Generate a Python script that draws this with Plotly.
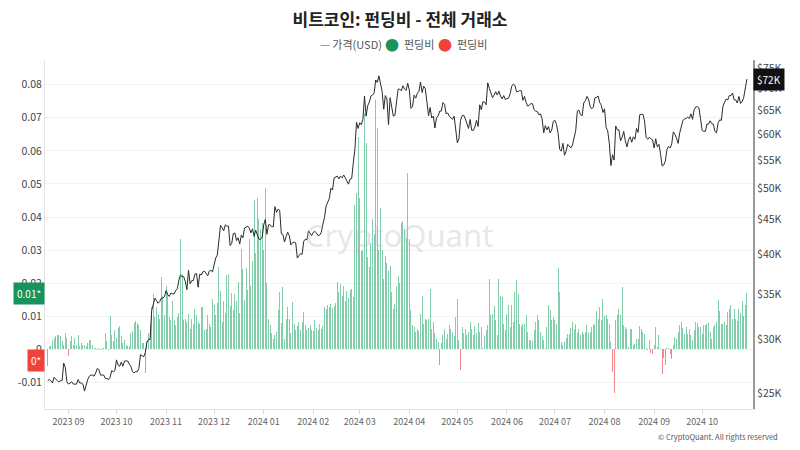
import math
import pandas as pd
import plotly.graph_objects as go

# BTC price (thousand USD), daily from 2023-08-19 to 2024-10-29
p_2023_08 = [26.1, 26.2, 26.1, 25.9, 26.4, 26.2, 26.1, 26.0, 26.1, 26.1, 27.7, 27.3, 26.0]
p_2023_09 = [25.8, 25.9, 26.0, 25.8, 25.8, 25.8, 26.2, 25.9, 25.9, 25.8, 25.2, 25.8, 26.2, 26.5, 26.6, 26.6, 26.5, 26.8, 27.2, 27.1, 26.6, 26.6, 26.6, 26.3, 26.3, 26.2, 26.4, 27.0, 26.9, 27.0]
p_2023_10 = [28.0, 27.5, 27.4, 27.8, 27.4, 27.9, 27.9, 27.9, 27.6, 27.4, 26.9, 26.8, 26.9, 26.9, 27.2, 28.5, 28.4, 28.3, 28.7, 29.7, 30.0, 30.0, 33.1, 34.0, 34.5, 34.2, 33.9, 34.1, 34.5, 34.5, 34.7]
p_2023_11 = [35.4, 34.9, 34.7, 35.1, 35.0, 35.0, 35.4, 35.6, 36.7, 37.3, 37.1, 37.1, 36.5, 35.5, 37.9, 36.2, 36.6, 36.6, 37.4, 37.5, 35.8, 37.4, 37.3, 37.7, 37.8, 37.5, 37.2, 37.8, 37.9, 37.7]
p_2023_12 = [38.7, 39.5, 39.9, 42.0, 44.1, 43.8, 43.3, 44.2, 44.0, 44.0, 41.2, 41.5, 42.9, 43.0, 41.9, 42.3, 41.4, 42.7, 42.3, 43.7, 43.9, 44.0, 43.7, 43.0, 43.6, 42.5, 43.4, 42.6, 42.1, 42.1, 42.3]
p_2024_01 = [44.2, 45.0, 42.8, 44.2, 44.2, 43.9, 43.9, 47.0, 46.1, 46.6, 46.4, 42.9, 42.8, 41.7, 42.5, 43.1, 42.6, 41.3, 41.6, 41.7, 41.6, 39.5, 39.8, 40.1, 40.0, 41.8, 42.1, 42.0, 43.3, 42.9, 42.6]
p_2024_02 = [43.1, 43.2, 43.0, 42.6, 42.7, 43.1, 44.3, 45.3, 47.1, 47.8, 48.3, 50.0, 49.7, 51.8, 51.9, 52.1, 51.6, 52.1, 51.8, 52.3, 51.8, 51.3, 50.7, 51.6, 51.7, 54.5, 57.1, 62.5, 61.2]
p_2024_03 = [62.4, 62.0, 63.1, 68.3, 63.8, 66.1, 66.9, 68.3, 68.5, 69.0, 72.1, 71.5, 73.1, 71.4, 69.4, 65.3, 68.4, 67.6, 62.0, 67.9, 65.5, 63.8, 64.0, 67.2, 69.9, 69.9, 69.5, 70.7, 69.9, 69.6, 71.3]
p_2024_04 = [69.7, 65.5, 65.9, 68.5, 67.8, 68.9, 69.4, 71.6, 69.1, 70.6, 70.0, 67.2, 63.9, 65.7, 63.4, 63.8, 61.3, 63.5, 63.8, 64.9, 64.9, 66.8, 66.4, 64.3, 64.5, 63.8, 63.4, 63.1, 63.8, 60.6]
p_2024_05 = [58.3, 59.1, 62.9, 63.9, 64.0, 63.2, 62.3, 61.2, 63.1, 60.8, 60.8, 61.5, 62.9, 61.6, 66.3, 65.2, 67.0, 66.9, 66.3, 71.4, 70.1, 69.1, 67.9, 68.5, 69.3, 68.5, 69.4, 68.3, 67.6, 68.4, 67.5]
p_2024_06 = [67.7, 67.8, 68.8, 70.6, 71.1, 70.8, 69.3, 69.3, 69.6, 69.5, 67.3, 68.2, 66.8, 66.0, 66.2, 66.6, 66.5, 65.2, 64.9, 64.8, 64.1, 64.3, 63.2, 60.3, 61.8, 60.9, 61.6, 60.3, 60.9, 62.7]
p_2024_07 = [62.9, 62.0, 60.2, 57.0, 56.7, 58.2, 55.9, 56.7, 58.0, 57.7, 57.3, 57.9, 59.2, 60.8, 64.9, 65.1, 64.1, 63.9, 66.7, 67.2, 68.2, 67.6, 65.9, 65.4, 65.8, 67.9, 68.0, 68.3, 66.8, 66.2, 64.6]
p_2024_08 = [65.4, 61.4, 60.7, 58.1, 54.0, 56.0, 55.0, 61.7, 60.9, 60.9, 58.7, 59.4, 60.6, 58.7, 57.5, 58.9, 59.5, 58.4, 59.5, 59.0, 61.2, 60.4, 64.1, 64.2, 64.2, 62.8, 59.4, 59.0, 59.4, 59.1, 58.9]
p_2024_09 = [57.3, 59.1, 57.5, 58.0, 56.2, 53.9, 54.1, 54.8, 57.0, 57.6, 57.3, 58.1, 60.5, 60.0, 59.2, 58.2, 60.3, 61.8, 62.9, 63.2, 63.3, 63.6, 63.3, 64.3, 63.1, 65.2, 65.8, 65.9, 65.6, 63.3]
p_2024_10 = [60.8, 60.6, 60.6, 62.1, 62.1, 62.8, 62.2, 62.1, 60.6, 60.3, 62.4, 63.0, 62.9, 66.0, 67.0, 67.6, 67.4, 68.4, 68.4, 69.0, 67.4, 67.4, 66.7, 68.2, 66.6, 67.0, 68.0, 69.9, 72.3]

# Funding rate (all exchanges), daily
f_2023_08 = [-0.005, 0.001, 0.001, 0.003, 0.0035, 0.004, 0.0045, 0.0045, 0.004, 0.0025, 0.0015, 0.005, 0.0035]
f_2023_09 = [-0.002, 0.0025, 0.004, 0.0015, 0.0035, 0.0015, 0.0045, 0.001, 0.002, 0.0015, 0.0015, 0.001, 0.002, 0.003, 0.003, 0.0015, 0.0005, 0.0003, -0.0003, 0.0005, -0.0003, 0.0003, 0.0003, 0.005, 0.0025, -0.0003, 0.010, 0.0045, 0.0025, 0.006]
f_2023_10 = [0.0035, 0.0065, 0.007, 0.004, 0.002, 0.003, 0.0015, 0.0012, 0.001, 0.005, 0.0055, 0.008, 0.0085, 0.008, 0.0075, 0.006, 0.002, 0.002, -0.007, 0.0025, 0.005, 0.0073, 0.0128, 0.0168, 0.0098, 0.0128, 0.0108, 0.0093, 0.0218, 0.0163, 0.0103]
f_2023_11 = [0.0193, 0.0173, 0.0098, 0.0088, 0.0148, 0.0088, 0.0073, 0.0098, 0.011, 0.0335, 0.0228, 0.0088, 0.0093, 0.0083, 0.0108, 0.0063, 0.0093, 0.0078, 0.0123, 0.0103, 0.0083, 0.0078, 0.0128, 0.0128, 0.0058, 0.0063, 0.0103, 0.0078, 0.0068, 0.0153]
f_2023_12 = [0.0133, 0.0103, 0.014, 0.025, 0.0178, 0.0083, 0.0145, 0.011, 0.0225, 0.0228, 0.013, 0.017, 0.012, 0.0168, 0.0148, 0.0203, 0.011, 0.0303, 0.0243, 0.015, 0.0245, 0.018, 0.0333, 0.0193, 0.0268, 0.0453, 0.0293, 0.0458, 0.0393, 0.0363, 0.0383]
f_2024_01 = [0.030, 0.0488, 0.020, 0.0093, 0.0073, 0.005, 0.0033, 0.0045, 0.0053, 0.0118, 0.0173, 0.008, 0.0188, 0.0033, 0.0093, 0.0128, 0.0093, 0.005, 0.0143, 0.0078, 0.0058, 0.007, 0.0083, 0.006, 0.0083, 0.0113, 0.0073, 0.0058, 0.0065, 0.0073, 0.006]
f_2024_02 = [0.0055, 0.0088, 0.0065, 0.0058, 0.0078, 0.0063, 0.007, 0.0128, 0.0123, 0.0133, 0.0128, 0.0138, 0.0125, 0.013, 0.014, 0.0203, 0.0173, 0.0198, 0.0163, 0.0193, 0.0148, 0.0178, 0.0155, 0.018, 0.0183, 0.016, 0.0438, 0.0473, 0.0643]
f_2024_03 = [0.0458, 0.0298, 0.030, 0.0713, 0.0623, 0.0278, 0.025, 0.0323, 0.0393, 0.035, 0.0753, 0.0668, 0.030, 0.0428, 0.030, 0.0213, 0.0283, 0.026, 0.0238, 0.0253, 0.0173, 0.0123, 0.0138, 0.0193, 0.0223, 0.020, 0.0383, 0.0388, 0.0363, 0.0338, 0.0533]
f_2024_04 = [0.0333, 0.012, 0.0073, 0.0068, 0.0053, 0.0063, 0.0055, 0.0108, 0.0163, 0.0078, 0.0093, 0.0088, 0.0093, 0.0183, 0.0063, 0.0083, 0.005, 0.0033, 0.0023, -0.0047, 0.002, 0.0043, 0.0063, 0.0033, 0.0048, 0.0073, 0.0063, 0.0053, 0.004, 0.0098]
f_2024_05 = [0.0153, 0.003, -0.0062, 0.0068, 0.005, 0.0063, 0.0045, 0.0053, 0.0083, 0.0063, 0.0043, 0.007, 0.005, 0.008, 0.0053, 0.0068, 0.0003, 0.004, 0.0058, 0.0073, 0.0213, 0.0103, 0.0108, 0.0131, 0.0088, 0.0043, 0.0213, 0.0163, 0.0158, 0.0078, 0.006]
f_2024_06 = [0.0108, 0.0133, 0.0068, 0.0133, 0.0083, 0.0173, 0.0211, 0.0168, 0.0078, 0.007, 0.0078, 0.0078, 0.0103, 0.0053, 0.003, 0.0028, 0.0025, 0.006, 0.0083, 0.0103, 0.009, 0.0053, 0.004, 0.0028, 0.0005, 0.0068, 0.0135, 0.0118, 0.009, 0.0098]
f_2024_07 = [0.0088, 0.0078, 0.0245, 0.0175, 0.0023, 0.0013, 0.0023, 0.0035, 0.0048, 0.0048, 0.0065, 0.0083, 0.0063, 0.0078, 0.005, 0.0063, 0.0043, 0.0053, 0.0048, 0.0053, 0.0073, 0.005, 0.0053, 0.0068, 0.0078, 0.0073, 0.0116, 0.0093, 0.0128, 0.009, 0.0153]
f_2024_08 = [0.0101, 0.0103, 0.0093, 0.0078, 0.0023, -0.0067, -0.013, 0.009, 0.0105, 0.0123, 0.0103, 0.0188, 0.0073, 0.0068, 0.0063, 0.0008, 0.0063, 0.0063, 0.0015, 0.0018, 0.0033, 0.0033, 0.007, 0.0063, 0.0053, 0.0048, 0.0003, -0.0002, 0.0028, -0.0012, -0.0015]
f_2024_09 = [0.0013, 0.0068, 0.0008, 0.0043, 0.0003, -0.0075, -0.0027, -0.0047, 0.0003, 0.0005, -0.0015, -0.0029, 0.0013, 0.0038, 0.0033, 0.0053, 0.0075, 0.0083, 0.0065, 0.0048, 0.0068, 0.0048, 0.0063, 0.0043, 0.0028, 0.0058, 0.0083, 0.0081, 0.0068, 0.0068]
f_2024_10 = [0.0048, 0.0073, 0.0073, 0.0078, 0.0081, 0.0053, 0.0033, 0.0068, 0.0073, 0.0083, 0.0151, 0.0115, 0.0078, 0.0078, 0.0083, 0.0073, 0.0113, 0.0123, 0.0133, 0.0093, 0.0123, 0.0093, 0.0085, 0.0123, 0.011, 0.0148, 0.010, 0.0135, 0.017]

month_ticks = ["2023-09-01", "2023-10-01", "2023-11-01", "2023-12-01", "2024-01-01", "2024-02-01", "2024-03-01",
               "2024-04-01", "2024-05-01", "2024-06-01", "2024-07-01", "2024-08-01", "2024-09-01", "2024-10-01"]
month_labels = ["2023 09", "2023 10", "2023 11", "2023 12", "2024 01", "2024 02", "2024 03",
                "2024 04", "2024 05", "2024 06", "2024 07", "2024 08", "2024 09", "2024 10"]
left_ticks = [-0.01, 0, 0.01, 0.02, 0.03, 0.04, 0.05, 0.06, 0.07, 0.08]
left_labels = ["-0.01", "0", "0.01", "0.02", "0.03", "0.04", "0.05", "0.06", "0.07", "0.08"]
right_ticks = [25, 30, 35, 40, 45, 50, 55, 60, 65, 70, 75]
right_labels = ["$25K", "$30K", "$35K", "$40K", "$45K", "$50K", "$55K", "$60K", "$65K", "$70K", "$75K"]

price = (p_2023_08 + p_2023_09 + p_2023_10 + p_2023_11 + p_2023_12 + p_2024_01 + p_2024_02
         + p_2024_03 + p_2024_04 + p_2024_05 + p_2024_06 + p_2024_07 + p_2024_08 + p_2024_09 + p_2024_10)
funding = (f_2023_08 + f_2023_09 + f_2023_10 + f_2023_11 + f_2023_12 + f_2024_01 + f_2024_02
           + f_2024_03 + f_2024_04 + f_2024_05 + f_2024_06 + f_2024_07 + f_2024_08 + f_2024_09 + f_2024_10)
assert len(price) == len(funding)
dates = pd.date_range("2023-08-19", periods=len(price), freq="D")

pos = [v if v >= 0 else None for v in funding]
neg = [v if v < 0 else None for v in funding]

GREEN = "#17935b"
RED = "#f0413a"
FONT = "Noto Sans CJK KR, Noto Sans, sans-serif"
bar_w = 0.6 * 86400000

fig = go.Figure()
fig.add_trace(go.Bar(x=dates, y=pos, width=bar_w, marker=dict(color="rgba(30,165,100,0.55)", line=dict(width=0)),
                     showlegend=False, name="펀딩비"))
fig.add_trace(go.Bar(x=dates, y=neg, width=bar_w, marker=dict(color="rgba(240,70,70,0.65)", line=dict(width=0)),
                     showlegend=False, name="펀딩비"))
fig.add_trace(go.Scatter(x=dates, y=price, yaxis="y2", mode="lines", line=dict(color="#2b2b2b", width=1),
                         name="가격(USD)", showlegend=False))

# plot area: x 45..753, y 60..409
y_lo, y_hi = -0.01798, 0.08746
p_lo, p_hi = math.log10(23.72), math.log10(77.13)
PW, PH = 708, 349


def px_x(px):
    return (px - 45) / PW


def px_y(py):
    return (409 - py) / PH


legend_y = px_y(44)
legend_items = [
    dict(text="<span style='color:#888'>—</span> 가격(USD)", x=px_x(318), font=dict(size=11, color="#555")),
    dict(text="●", x=px_x(383), font=dict(size=14, color=GREEN)),
    dict(text="펀딩비", x=px_x(402), font=dict(size=11, color="#555")),
    dict(text="●", x=px_x(436), font=dict(size=14, color=RED)),
    dict(text="펀딩비", x=px_x(455), font=dict(size=11, color="#555")),
]
legend_ann = [dict(text=it["text"], xref="paper", yref="paper", x=it["x"], y=legend_y, xanchor="left",
                   yanchor="middle", showarrow=False, font=it["font"]) for it in legend_items]

fig.update_layout(
    width=800, height=450,
    margin=dict(l=45, r=47, t=60, b=41),
    paper_bgcolor="white", plot_bgcolor="white",
    font=dict(family=FONT, color="#444", size=10),
    barmode="overlay", bargap=0, showlegend=False,
    title=dict(text="<b>비트코인: 펀딩비 - 전체 거래소</b>", x=0.5, xanchor="center", y=1 - 20 / 450,
               yanchor="middle", yref="container", font=dict(size=17, color="#222", family=FONT)),
    xaxis=dict(type="date", range=["2023-08-17 07:30", "2024-11-01 19:00"], tickvals=month_ticks,
               ticktext=month_labels, ticks="outside", ticklen=4, tickcolor="#d8d8d8",
               showline=True, linecolor="#e3e3e3", linewidth=1, showgrid=False, zeroline=False,
               tickfont=dict(size=9, color="#666")),
    yaxis=dict(range=[y_lo, y_hi], tickvals=left_ticks, ticktext=left_labels, showgrid=True,
               gridcolor="#f3f3f3", zeroline=False, showline=True, linecolor="#e3e3e3", linewidth=1,
               tickfont=dict(size=10.5, color="#444"), ticks=""),
    yaxis2=dict(type="log", range=[p_lo, p_hi], overlaying="y", side="right", tickvals=right_ticks,
                ticktext=right_labels, showgrid=False, zeroline=False, showline=True, linecolor="#9a9a9a",
                linewidth=2, tickfont=dict(size=10.5, color="#444"), ticks=""),
    annotations=legend_ann + [
        dict(text="CryptoQuant", xref="paper", yref="paper", x=0.5, y=0.5, showarrow=False,
             font=dict(size=31, color="rgba(175,175,195,0.33)", family="Noto Sans, sans-serif")),
        dict(text="0.01*", xref="paper", yref="y", x=0, y=funding[-1], xanchor="right", yanchor="middle",
             showarrow=False, bgcolor=GREEN, borderpad=3, font=dict(size=10, color="white")),
        dict(text="0*", xref="paper", yref="y", x=0, y=0, xanchor="right", yanchor="top",
             showarrow=False, bgcolor=RED, borderpad=3, font=dict(size=10, color="white")),
        dict(text="$72K", xref="paper", yref="y2", x=1, y=math.log10(price[-1]), xanchor="left",
             yanchor="middle", showarrow=False, bgcolor="#111", borderpad=3, font=dict(size=10, color="white")),
        dict(text="© CryptoQuant. All rights reserved", xref="paper", yref="paper", x=px_x(780),
             y=px_y(436), xanchor="right", yanchor="middle", showarrow=False,
             font=dict(size=7.5, color="#555")),
    ],
)

fig.write_html("out.html")
